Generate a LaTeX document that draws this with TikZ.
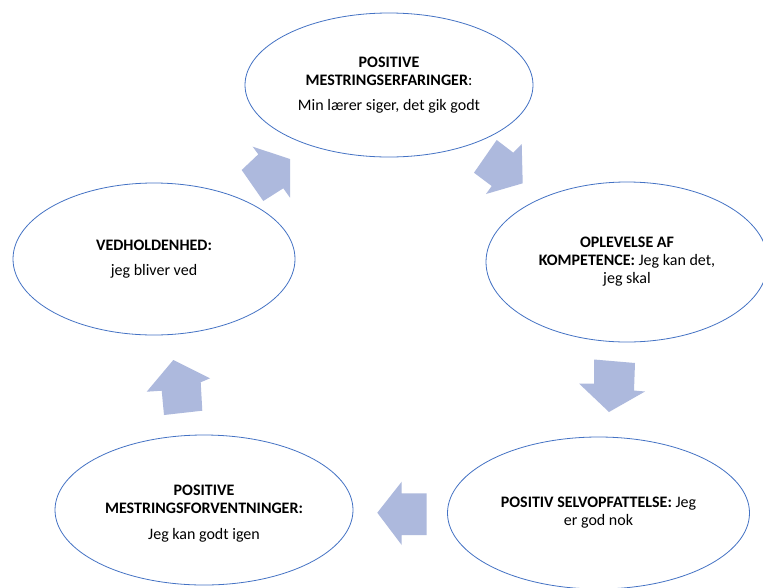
\documentclass[tikz,border=0pt]{standalone}
\usepackage{fontspec}
\setmainfont{Carlito}
\usetikzlibrary{shapes.geometric}
\definecolor{ringblue}{RGB}{68,114,196}
\definecolor{arrowfill}{RGB}{173,185,221}
\tikzset{
  ell/.style={ellipse, draw=ringblue, line width=0.8pt, fill=white, inner sep=0pt,
    align=center, font=\fontsize{16}{18}\selectfont, text=black},
  blockarrow/.style={fill=arrowfill, draw=none},
}
\begin{document}
\begin{tikzpicture}[x=1pt,y=-1pt]
\useasboundingbox (0,0) rectangle (763,587);
\clip (0,0) rectangle (763,587);
\fill[white] (0,0) rectangle (763,587);

\node[ell, minimum width=288pt, minimum height=144pt] (top) at (389,85)
  {\textbf{POSITIVE}\\\textbf{MESTRINGSERFARINGER}:\\[7.5pt]Min lærer siger, det gik godt};
\node[ell, minimum width=282pt, minimum height=160pt] (right) at (627,262)
  {\textbf{OPLEVELSE AF}\\\textbf{KOMPETENCE:} Jeg kan det,\\jeg skal};
\node[ell, minimum width=302pt, minimum height=152pt] (bright) at (598.5,513)
  {\textbf{POSITIV SELVOPFATTELSE:} Jeg\\er god nok};
\node[ell, minimum width=298pt, minimum height=150pt] (bleft) at (204,510)
  {\rule{0pt}{18pt}\textbf{POSITIVE}\\\textbf{MESTRINGSFORVENTNINGER:}\\[7.5pt]Jeg kan godt igen};
\node[ell, minimum width=282pt, minimum height=152pt] (left) at (154,259)
  {\textbf{VEDHOLDENHED:}\\[7.5pt]jeg bliver ved};

% left -> top
\fill[blockarrow] (252.7,146.7) -- (290,159) -- (290,197.7) -- (283.3,188.3)
  -- (263.3,201) -- (241.7,170) -- (258.3,154.3) -- cycle;
% top -> right
\fill[blockarrow] (496.7,140) -- (513.3,152.7) -- (521.7,144) -- (522.7,183.3)
  -- (486,194) -- (491.7,186) -- (474,172.7) -- cycle;
% right -> bottom right
\fill[blockarrow] (594,359.5) -- (635,363) -- (634,390.5) -- (645,391.5)
  -- (609,412) -- (579,383.5) -- (594,383.5) -- cycle;
% bottom right -> bottom left
\fill[blockarrow] (426.7,493.3) -- (401.7,493.3) -- (401.7,481.7) -- (377.3,512.7)
  -- (401.7,545) -- (401.7,535) -- (426.7,535) -- cycle;
% bottom left -> left
\fill[blockarrow] (173.3,360) -- (210,378.3) -- (200.7,382.3) -- (202.3,410.7)
  -- (164,415) -- (161.7,390.7) -- (146.7,391.7) -- cycle;
\end{tikzpicture}
\end{document}
